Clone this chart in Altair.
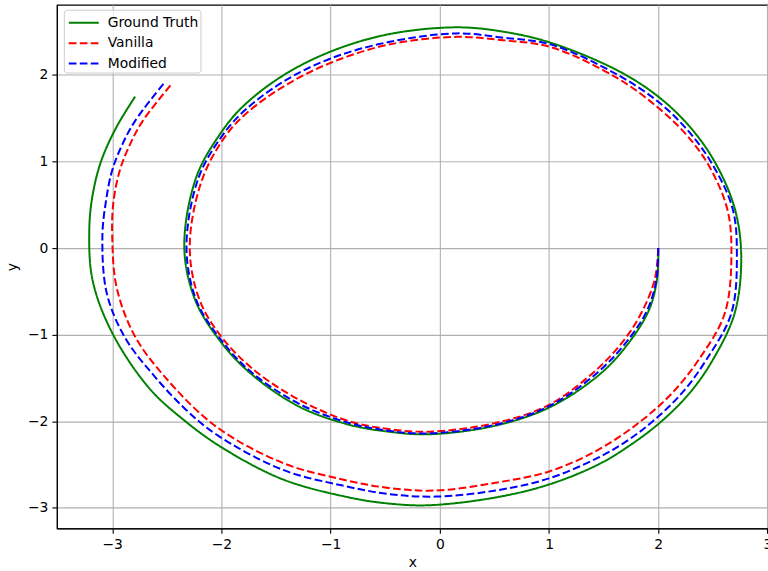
import altair as alt
import pandas as pd

gt_x = [2.00, 1.99, 1.92, 1.75, 1.48, 1.02, 0.51, -0.10, -0.47, -0.83, -1.29, -1.74, -2.02, -2.24, -2.34, -2.23,
        -2.00, -1.80, -1.44, -1.00, -0.47, 0.15, 0.58, 1.02, 1.63, 2.00, 2.29, 2.52, 2.70, 2.76, 2.70, 2.50, 2.29,
        2.03, 1.75, 1.45, 1.00, 0.51, -0.10, -0.47, -0.83, -1.44, -2.00, -2.35, -2.66, -3.00, -3.18, -3.21, -3.18,
        -3.10, -2.96, -2.79]
gt_y = [0.00, -0.35, -0.70, -1.06, -1.44, -1.83, -2.05, -2.15, -2.12, -2.04, -1.83, -1.44, -1.06, -0.60, 0.01, 0.82,
        1.34, 1.64, 1.99, 2.27, 2.47, 2.55, 2.50, 2.37, 2.05, 1.75, 1.40, 0.99, 0.46, -0.10, -0.75, -1.29, -1.67,
        -2.00, -2.27, -2.50, -2.73, -2.88, -2.97, -2.95, -2.88, -2.67, -2.30, -1.98, -1.62, -0.98, -0.37, 0.21, 0.61,
        1.01, 1.40, 1.75]

va_x = [2.00, 1.97, 1.865, 1.70, 1.43, 1.00, 0.51, -0.10, -0.47, -0.83, -1.26, -1.68, -1.99, -2.20, -2.29, -2.18,
        -1.96, -1.75, -1.40, -1.00, -0.47, 0.15, 0.58, 1.02, 1.63, 2.00, 2.25, 2.46, 2.63, 2.67, 2.61, 2.37, 2.13,
        1.84, 1.45, 1.00, 0.51, -0.04, -0.47, -0.90, -1.44, -2.05, -2.53, -2.80, -2.96, -3.00, -2.99, -2.93, -2.84,
        -2.72, -2.46]
va_y = [0.00, -0.35, -0.70, -1.04, -1.41, -1.81, -2.02, -2.12, -2.09, -2.00, -1.77, -1.43, -1.04, -0.60, 0.01, 0.78,
        1.30, 1.58, 1.89, 2.14, 2.35, 2.44, 2.40, 2.32, 1.96, 1.62, 1.32, 0.96, 0.46, -0.02, -0.75, -1.29, -1.67,
        -2.00, -2.33, -2.58, -2.71, -2.80, -2.77, -2.67, -2.48, -2.06, -1.47, -1.00, -0.45, 0.13, 0.52, 0.90, 1.19,
        1.47, 1.89]

mo_x = [2.00, 1.985, 1.905, 1.73, 1.45, 1.01, 0.51, -0.10, -0.47, -0.83, -1.27, -1.72, -2.01, -2.23, -2.32, -2.21,
        -1.98, -1.77, -1.41, -1.00, -0.47, 0.15, 0.58, 1.02, 1.63, 2.00, 2.27, 2.49, 2.68, 2.72, 2.67, 2.44, 2.22,
        1.95, 1.71, 1.45, 1.00, 0.51, -0.04, -0.47, -0.90, -1.44, -2.05, -2.33, -2.62, -2.88, -3.05, -3.09, -3.06,
        -3.00, -2.91, -2.79, -2.53]
mo_y = [0.00, -0.35, -0.70, -1.05, -1.43, -1.82, -2.04, -2.14, -2.11, -2.02, -1.81, -1.44, -1.05, -0.60, 0.01, 0.81,
        1.32, 1.61, 1.94, 2.19, 2.38, 2.48, 2.43, 2.35, 2.00, 1.69, 1.36, 0.98, 0.46, -0.06, -0.75, -1.29, -1.67,
        -2.00, -2.23, -2.42, -2.66, -2.80, -2.87, -2.84, -2.74, -2.56, -2.15, -1.86, -1.47, -1.04, -0.52, 0.13, 0.52,
        0.90, 1.19, 1.47, 1.90]

series_names = ["Ground Truth", "Vanilla", "Modified"]
series_colors = ["#008000", "#ff0000", "#0000ff"]
x_ticks = [-3, -2, -1, 0, 1, 2, 3]
y_ticks = [-3, -2, -1, 0, 1, 2]

rows = []
for name, xs, ys in zip(series_names, [gt_x, va_x, mo_x], [gt_y, va_y, mo_y]):
    for i, (a, b) in enumerate(zip(xs, ys)):
        rows.append({"series": name, "i": i, "x": a, "y": b})
df = pd.DataFrame(rows)

chart = alt.Chart(df).mark_line(strokeWidth=2, interpolate="catmull-rom", clip=True).encode(
    x=alt.X("x:Q", scale=alt.Scale(domain=[-3.507, 3.005], nice=False, zero=False),
            axis=alt.Axis(values=x_ticks, title="x", format="d", labelFlush=False)),
    y=alt.Y("y:Q", scale=alt.Scale(domain=[-3.237, 2.811], nice=False, zero=False),
            axis=alt.Axis(values=y_ticks, title="y", format="d", labelFlush=False)),
    color=alt.Color("series:N", scale=alt.Scale(domain=series_names, range=series_colors),
                    legend=alt.Legend(title=None, orient="none", legendX=7, legendY=5,
                                      symbolType="M-1.5,0L1.5,0", symbolSize=400, symbolStrokeWidth=2,
                                      symbolOffset=7, labelFontSize=13.9, labelOffset=13, rowPadding=2.5,
                                      padding=2, fillColor="rgba(255,255,255,0.8)",
                                      strokeColor="#cccccc", cornerRadius=3)),
    strokeDash=alt.StrokeDash("series:N", scale=alt.Scale(domain=series_names,
                                                          range=[[1, 0], [7.7, 3.3], [7.7, 3.3]]),
                              legend=None),
    order="i:Q",
).properties(
    width=713, height=525,
    autosize=alt.AutoSizeParams(type="none"),
    padding={"left": 57, "top": 4, "right": 0, "bottom": 42},
).configure(
    font="DejaVu Sans",
).configure_axis(
    labelFontSize=13.9, titleFontSize=13.9, labelColor="black", titleColor="black",
    titleFontWeight="normal", gridColor="#b0b0b0", gridWidth=1.1, gridOpacity=1,
    domainColor="black", domainWidth=1.1, tickColor="black", tickSize=5, tickWidth=1.1, labelPadding=4,
).configure_axisX(titlePadding=4).configure_axisY(titlePadding=8).configure_view(
    stroke="black", strokeWidth=1.1
).configure_legend(labelColor="black", labelFont="DejaVu Sans")

chart.save("out.html", embed_options={"renderer": "svg", "actions": False})
